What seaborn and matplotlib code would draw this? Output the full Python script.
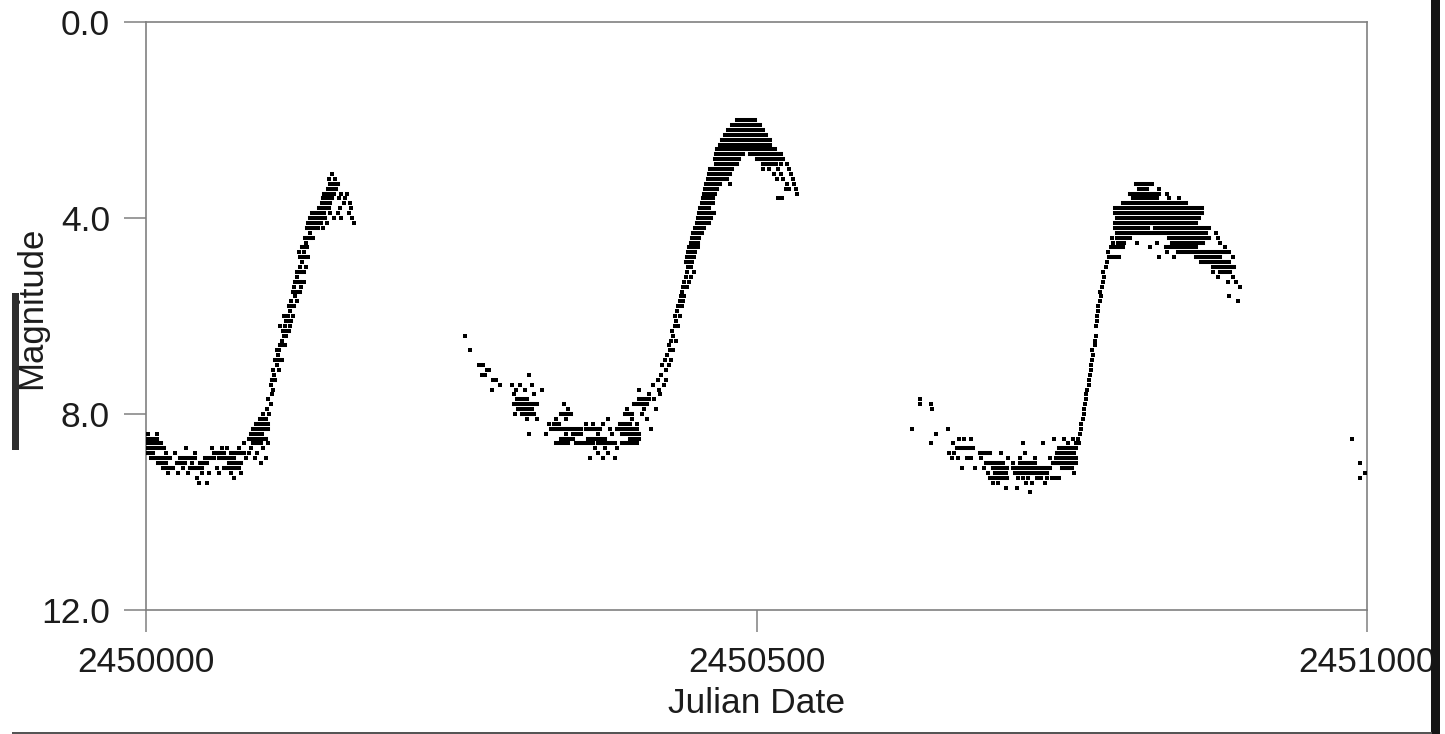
import matplotlib
matplotlib.use("Agg")
import matplotlib.pyplot as plt
from matplotlib.patches import Rectangle
from matplotlib.ticker import FormatStrFormatter
import pandas as pd
import seaborn as sns

JD0 = 2450000

# Stretches of consecutive nightly estimates at one magnitude:
# (first day, last day, magnitude), days counted from JD 2450000
cycle1_runs = [
    (1, 9, 8.5), (0, 12, 8.6), (2, 15, 8.7), (0, 6, 8.8), (4, 20, 8.9),
    (10, 16, 9.0), (14, 22, 9.1), (25, 32, 9.0), (28, 40, 8.9), (36, 46, 9.1),
    (44, 50, 9.0), (48, 56, 8.9), (56, 64, 8.8), (60, 72, 8.9), (64, 76, 9.1),
    (68, 78, 9.0), (70, 80, 8.8), (86, 95, 8.4), (84, 98, 8.5), (88, 94, 8.6),
    (88, 100, 8.3), (90, 100, 8.2), (93, 98, 8.1),
    (103, 106, 7.3), (106, 110, 6.9), (110, 114, 6.6), (112, 117, 6.3),
    (115, 119, 6.1), (117, 121, 5.8), (120, 126, 5.5), (122, 126, 5.3),
    (124, 129, 5.1), (126, 131, 4.8), (128, 132, 4.6), (130, 135, 4.4),
    (132, 141, 4.2), (133, 143, 4.1), (134, 147, 4.0), (136, 146, 3.9),
    (142, 150, 3.8), (144, 151, 3.7), (145, 152, 3.6), (146, 153, 3.5),
    (149, 156, 3.4), (151, 157, 3.3),
]
cycle2_runs = [
    (301, 320, 7.8), (304, 312, 7.7), (305, 316, 7.9), (308, 318, 8.0),
    (332, 342, 8.3), (346, 356, 8.3), (360, 372, 8.3), (334, 338, 8.2),
    (350, 354, 8.4), (386, 402, 8.3), (388, 396, 8.2), (390, 404, 8.4),
    (336, 346, 8.6), (352, 366, 8.6), (370, 384, 8.6), (390, 402, 8.6),
    (340, 350, 8.5), (362, 376, 8.5), (396, 404, 8.5), (340, 348, 8.0),
    (392, 398, 8.0), (400, 410, 7.8), (404, 412, 7.7),
    (442, 446, 4.9), (443, 447, 4.8), (444, 449, 4.7), (445, 450, 4.6),
    (446, 452, 4.5), (447, 453, 4.4), (448, 455, 4.3), (450, 457, 4.2),
    (451, 461, 4.1), (452, 463, 4.0), (453, 465, 3.9), (454, 461, 3.8),
    (455, 462, 3.7), (456, 464, 3.6), (457, 465, 3.5), (458, 468, 3.4),
    (459, 470, 3.3), (460, 476, 3.2), (461, 478, 3.1), (462, 480, 3.0),
    (467, 484, 2.9), (505, 516, 2.9), (466, 486, 2.8), (500, 522, 2.8),
    (467, 489, 2.7), (495, 520, 2.7), (468, 505, 2.6), (509, 515, 2.6),
    (470, 511, 2.5), (472, 511, 2.4), (474, 508, 2.3), (477, 505, 2.2),
    (480, 503, 2.1), (484, 488, 2.0), (491, 499, 2.0),
]
cycle3_runs = [
    (664, 677, 8.7), (683, 691, 8.8), (688, 699, 9.0), (694, 705, 9.1),
    (691, 705, 9.3), (695, 704, 9.2), (710, 740, 9.1), (712, 738, 9.2),
    (716, 728, 9.0), (743, 762, 9.0), (745, 762, 8.9), (746, 760, 8.8),
    (748, 762, 8.7), (750, 758, 9.1),
    (811, 822, 3.3), (813, 820, 3.4), (806, 830, 3.5), (808, 828, 3.6),
    (800, 852, 3.7), (794, 865, 3.8), (794, 865, 3.9), (795, 862, 4.0),
    (794, 860, 4.1), (794, 821, 4.2), (826, 871, 4.2), (795, 868, 4.3),
    (795, 803, 4.4), (838, 871, 4.4), (796, 801, 4.5), (840, 866, 4.5),
    (791, 800, 4.6), (835, 860, 4.6), (845, 884, 4.7), (789, 797, 4.8),
    (860, 880, 4.8), (864, 887, 4.9), (874, 891, 5.0), (880, 888, 5.1),
]

# Single estimates: (day from JD 2450000, magnitude)
cycle1_points = [
    (2, 8.4), (9, 8.4), (16, 8.8), (18, 9.2), (24, 8.8), (26, 9.2), (30, 9.1),
    (33, 8.7), (34, 9.2), (38, 9.0), (40, 8.8), (42, 9.3), (43, 9.4), (50, 9.4),
    (46, 9.2), (52, 9.2), (54, 8.7), (58, 9.1), (60, 9.2), (62, 8.7), (66, 8.7),
    (70, 9.2), (72, 9.3), (76, 8.7), (78, 9.2), (80, 8.6), (82, 8.9), (84, 8.8),
    (86, 8.7), (89, 8.9), (91, 8.8), (94, 9.0), (96, 8.7), (98, 8.9), (100, 8.6),
    (96, 8.0), (99, 7.9), (101, 8.0), (100, 7.7), (102, 7.8), (103, 7.6),
    (104, 7.5), (102, 7.4), (105, 7.2), (104, 7.1), (107, 7.0), (108, 6.8),
    (107, 6.7), (109, 6.7), (111, 6.5), (113, 6.4), (110, 6.2), (114, 6.2),
    (116, 6.0), (118, 5.9), (113, 6.0), (119, 5.7), (122, 5.6), (121, 5.4),
    (124, 5.2), (126, 5.0), (128, 4.9), (125, 4.7), (129, 4.7), (131, 4.5),
    (134, 4.3), (137, 4.4), (145, 4.2), (148, 4.1), (152, 3.1), (150, 3.2),
    (155, 3.2), (154, 3.5), (158, 3.6), (160, 3.5), (163, 3.6), (162, 3.7),
    (165, 3.5), (167, 3.7), (168, 3.8), (166, 3.9), (169, 4.0), (170, 4.1),
    (151, 3.9), (154, 4.0), (157, 3.9), (159, 3.8), (160, 4.0),
    (115, 6.4), (118, 6.2), (120, 6.0), (124, 5.7), (127, 5.4), (129, 5.3),
    (131, 5.0), (133, 4.8), (109, 7.1), (111, 6.9),
]
cycle2_points = [
    (261, 6.4), (265, 6.7), (273, 7.0), (276, 7.0), (279, 7.1), (275, 7.2),
    (278, 7.2), (281, 7.1), (284, 7.3), (287, 7.3), (283, 7.5), (290, 7.4),
    (300, 7.4), (303, 7.5), (306, 7.4), (310, 7.5), (314, 7.2), (316, 7.4),
    (324, 7.5), (301, 7.6), (318, 7.6), (302, 8.0), (312, 8.1), (314, 8.4),
    (320, 8.1), (330, 8.2), (336, 8.1), (342, 7.8), (344, 8.1), (346, 7.9),
    (328, 8.4), (344, 8.4), (356, 8.4), (360, 8.2), (366, 8.2), (370, 8.4),
    (374, 8.2), (378, 8.1), (380, 8.3), (382, 8.4), (364, 8.9), (370, 8.8),
    (374, 8.9), (378, 8.8), (384, 8.9), (368, 8.7), (376, 8.7), (386, 8.7),
    (394, 7.9), (398, 8.1), (402, 8.2), (404, 7.5), (406, 8.0), (408, 7.9),
    (410, 8.1), (412, 7.6), (414, 8.3), (415, 7.4), (416, 7.7), (418, 7.9),
    (419, 7.3), (420, 7.5), (422, 7.2), (424, 7.4), (423, 7.0), (425, 6.9),
    (426, 7.1), (427, 6.8), (428, 6.6), (429, 6.7), (430, 6.5), (431, 6.3),
    (432, 6.4), (433, 6.2), (434, 6.1), (433, 6.0), (435, 5.9), (436, 5.8),
    (437, 5.7), (439, 5.8), (438, 5.6), (439, 5.5), (440, 5.4), (441, 5.3),
    (442, 5.2), (443, 5.1), (444, 5.0), (446, 5.2), (449, 4.8), (452, 4.6),
    (464, 3.7), (466, 3.5), (469, 3.3), (478, 3.3), (505, 3.0), (510, 3.0),
    (514, 3.1), (518, 3.0), (520, 3.1), (517, 3.2), (522, 3.2), (525, 3.3),
    (528, 3.1), (530, 3.2), (532, 3.4), (533, 3.5), (531, 3.3), (524, 3.4),
    (527, 3.4), (518, 3.6), (521, 3.6), (516, 2.9), (520, 2.9), (525, 2.9),
    (527, 3.0),
    (421, 7.6), (426, 7.3), (428, 7.0), (430, 6.9), (432, 6.7), (434, 6.5),
    (436, 6.2), (437, 6.0), (440, 5.7), (441, 5.6), (443, 5.4), (445, 5.3),
    (446, 5.0), (447, 4.9), (449, 5.1), (450, 4.7),
]
cycle3_points = [
    (627, 8.3), (634, 7.7), (634, 7.8), (643, 7.8), (644, 7.9), (647, 8.4),
    (657, 8.3), (643, 8.6), (661, 8.6), (666, 8.5), (670, 8.5), (676, 8.5),
    (658, 8.8), (662, 8.8), (660, 8.9), (665, 8.9), (668, 9.1), (672, 8.9),
    (676, 8.9), (679, 9.1), (684, 8.9), (686, 9.1), (694, 9.4), (698, 9.4),
    (704, 9.5), (710, 9.0), (713, 9.5), (716, 8.9), (718, 8.6), (720, 8.8),
    (721, 9.4), (724, 9.6), (726, 9.4), (728, 8.9), (730, 9.3), (733, 9.3),
    (735, 8.6), (736, 9.4), (738, 9.3), (740, 8.9), (742, 9.3), (744, 8.5),
    (748, 9.3), (752, 8.5), (755, 8.6), (759, 8.5), (760, 9.2), (762, 8.6),
    (700, 8.8), (706, 8.9), (690, 9.2), (702, 9.0), (714, 9.3), (718, 9.3),
    (722, 9.3), (745, 9.3),
    (763, 8.5), (764, 8.6), (765, 8.4), (766, 8.3), (766, 8.2), (767, 8.1),
    (768, 8.0), (768, 7.9), (769, 7.8), (770, 7.7), (770, 7.6), (771, 7.5),
    (772, 7.4), (772, 7.3), (773, 7.2), (774, 7.1), (774, 7.0), (775, 6.9),
    (776, 6.8), (775, 6.7), (777, 6.6), (777, 6.5), (778, 6.4), (778, 6.2),
    (779, 6.1), (779, 6.0), (780, 5.9), (780, 5.8), (781, 5.7), (782, 5.6),
    (781, 5.5), (783, 5.4), (784, 5.3), (785, 5.2), (784, 5.1), (786, 5.0),
    (787, 4.9), (789, 4.8), (788, 4.7), (790, 4.6), (792, 4.5), (791, 4.4),
    (824, 3.3), (830, 3.4), (836, 3.5), (838, 3.6), (846, 3.6), (876, 4.3),
    (878, 4.4), (880, 4.5), (884, 4.6), (887, 4.7), (890, 4.8), (874, 5.1),
    (883, 5.1), (878, 5.2), (886, 5.3), (890, 5.2), (893, 5.3), (896, 5.4),
    (887, 5.6), (894, 5.7), (822, 4.6), (828, 4.5), (812, 4.5), (806, 4.4),
    (830, 4.8), (836, 4.7), (842, 4.8),
]
cycle4_points = [(988, 8.5), (994, 9.0), (998, 9.2), (994, 9.3)]

y_ticks = [0, 4, 8, 12]
x_ticks = [2450000, 2450500, 2451000]

runs = pd.DataFrame(cycle1_runs + cycle2_runs + cycle3_runs,
                    columns=["start", "end", "mag"])
points = pd.DataFrame(cycle1_points + cycle2_points + cycle3_points + cycle4_points,
                      columns=["day", "mag"])
points["jd"] = JD0 + points["day"]

sns.set_theme(style="white")
plt.rcParams["font.family"] = ["Liberation Sans", "DejaVu Sans"]

W, H = 1445, 734
fig = plt.figure(figsize=(W / 100, H / 100), dpi=100)
fig.patch.set_facecolor("white")
ax = fig.add_axes([146 / W, 124 / H, 1221 / W, 588 / H])

ink = "black"
ax.hlines(runs["mag"], JD0 + runs["start"], JD0 + runs["end"],
          colors=ink, linewidth=2.9, capstyle="projecting", zorder=3)
sns.scatterplot(data=points, x="jd", y="mag", marker="s", s=11,
                color=ink, linewidth=0, ax=ax, zorder=3)

ax.set_xlim(JD0, JD0 + 1000)
ax.set_ylim(12, 0)
ax.set_xticks(x_ticks)
ax.set_yticks(y_ticks)
ax.ticklabel_format(axis="x", useOffset=False, style="plain")
ax.yaxis.set_major_formatter(FormatStrFormatter("%.1f"))

frame = "#808080"
text_c = "#1c1c1c"
for s in ax.spines.values():
    s.set_color(frame)
    s.set_linewidth(1.2)
    s.set_visible(True)
ax.tick_params(axis="both", direction="out", length=16, width=1.1,
               color=frame, labelsize=25.5, labelcolor=text_c, pad=10,
               bottom=True, left=True, top=False, right=False)

ax.set_xlabel("Julian Date", fontsize=25.5, color=text_c, labelpad=6)
ax.set_ylabel("Magnitude", fontsize=25, color=text_c, va="center", ha="center")
ax.yaxis.set_label_coords(-0.094, 0.514)
ax.grid(False)

# dark margin strips along the edges of the page
fig.add_artist(Rectangle((12 / W, 1 - 450 / H), 7 / W, 157 / H,
                         transform=fig.transFigure, color="#2e2e2e", lw=0))
fig.add_artist(Rectangle((1431 / W, 0), 9 / W, 1,
                         transform=fig.transFigure, color="#151515", lw=0))
fig.add_artist(Rectangle((12 / W, 1 - 734 / H), 1420 / W, 2 / H,
                         transform=fig.transFigure, color="#555555", lw=0))

fig.savefig("out.png", dpi=100, facecolor="white")
